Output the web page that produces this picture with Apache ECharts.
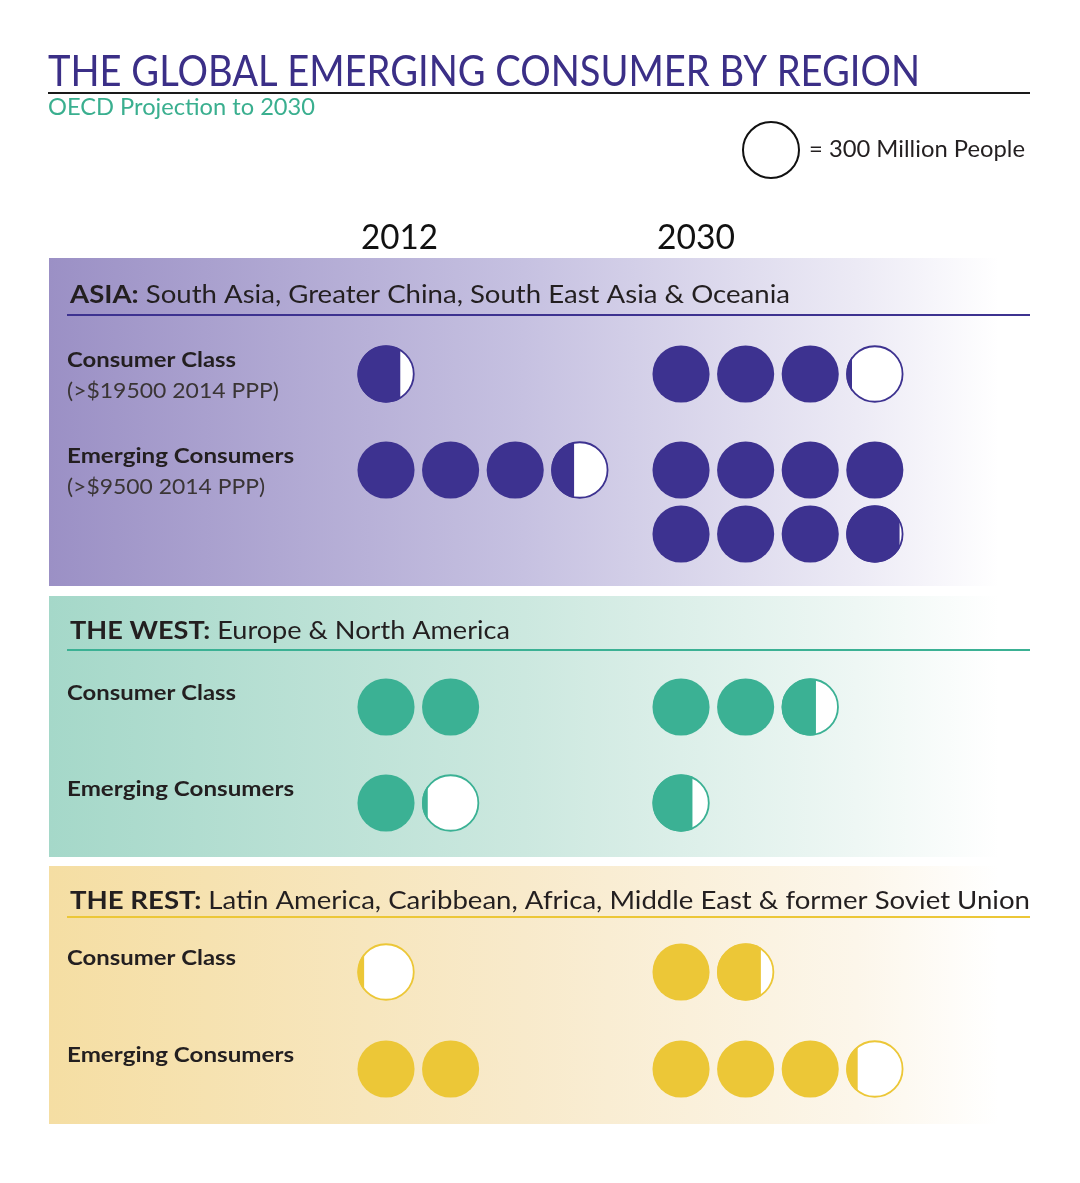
<!DOCTYPE html>
<html><head><meta charset="utf-8">
<script src="https://cdn.jsdelivr.net/npm/echarts@6/dist/echarts.min.js"></script>
<style>html,body{margin:0;padding:0;background:#fff}#c{width:1080px;height:1183px}</style>
</head><body><div id="c"></div>
<script>
// ---------------- DATA ----------------
const titleText = 'THE GLOBAL EMERGING CONSUMER BY REGION';
const subtitleText = 'OECD Projection to 2030';
const legendText = '= 300 Million People';
const regions = ['ASIA:', 'THE WEST:', 'THE REST:'];
const regionDetails = [
  'South Asia, Greater China, South East Asia & Oceania',
  'Europe & North America',
  'Latin America, Caribbean, Africa, Middle East & former Soviet Union'
];
const years = ['2012', '2030'];
const metrics = ['Consumer Class', 'Emerging Consumers'];
const metricNotes = ['(>$19500 2014 PPP)', '(>$9500 2014 PPP)']; // shown for Asia only
const peoplePerCircle = 300; // million people per circle
// millions of people, per region [Asia, West, Rest]
const consumerClass2012 = [225, 600, 35];
const consumerClass2030 = [930, 780, 530];
const emergingConsumers2012 = [1020, 330, 600];
const emergingConsumers2030 = [2380, 210, 960];

// ---------------- LAYOUT / STYLE ----------------
const FONT = 'Lato';
const TEXT = '#231f20';
const regionColors = ['#3d3290', '#3bb194', '#ecc737'];
const panelGrad = [
  ['#9b90c5', '#c6c1e1', '#eceaf5', '#ffffff'],
  ['#a5d8c9', '#cce8df', '#eef7f4', '#ffffff'],
  ['#f5dea3', '#f8eacb', '#fcf6ea', '#ffffff']
];
const panels = [
  {top: 258, bottom: 586, header: 295, line: 315, rows: [374, 470], headerW: 720},
  {top: 596, bottom: 857, header: 631, line: 650, rows: [707, 803], headerW: 440},
  {top: 866, bottom: 1124, header: 901, line: 917, rows: [972, 1069], headerW: 960}
];
const SLOT = 64.6;            // px per circle slot
const yearSlotOffset = [0, 4.567];
const perLine = 4;
const lineStep = 64;

const ctx = document.createElement('canvas').getContext('2d');
function tw(t, size, weight) { ctx.font = (weight || 'normal') + ' ' + size + 'px ' + FONT; return ctx.measureText(t).width; }
function fitText(t, left, width, cy, size, weight, color, z) {
  const s = width / tw(t, size, weight);
  return {type: 'text', x: left, y: cy, scaleX: s, scaleY: 1, z: z || 20,
    style: {text: t, fontSize: size, fontFamily: FONT, fontWeight: weight || 'normal', fill: color,
      align: 'left', verticalAlign: 'middle', textAlign: 'left', textVerticalAlign: 'middle'}};
}
function plainText(t, left, cy, size, weight, color, s) {
  return {type: 'text', x: left, y: cy, scaleX: s, z: 20,
    style: {text: t, fontSize: size, fontFamily: FONT, fontWeight: weight, fill: color,
      align: 'left', verticalAlign: 'middle', textAlign: 'left', textVerticalAlign: 'middle'}};
}

const g = [];
// panels
panels.forEach((p, i) => {
  g.push({type: 'rect', z: 1, shape: {x: 49, y: p.top, width: 950, height: p.bottom - p.top},
    style: {fill: new echarts.graphic.LinearGradient(0, 0, 1, 0, [
      {offset: 0, color: panelGrad[i][0]}, {offset: 0.5, color: panelGrad[i][1]},
      {offset: 0.85, color: panelGrad[i][2]}, {offset: 1, color: panelGrad[i][3]}])}});
  g.push({type: 'line', z: 5, shape: {x1: 67, y1: p.line, x2: 1030, y2: p.line},
    style: {stroke: regionColors[i], lineWidth: 2}});
  // header: bold region + detail
  const size = 25;
  const b = regions[i], n = ' ' + regionDetails[i];
  const wb = tw(b, size, 'bold'), wn = tw(n, size, 'normal');
  const s = p.headerW / (wb + wn);
  g.push(plainText(b, 70, p.header, size, 'bold', TEXT, s));
  g.push(plainText(n, 70 + wb * s, p.header, size, 'normal', TEXT, s));
  // row labels
  p.rows.forEach((ry, m) => {
    const wTarget = m === 0 ? 169 : 227;
    g.push(fitText(metrics[m], 67, wTarget, ry - 14, 21, 'bold', TEXT));
    if (i === 0) g.push(fitText(metricNotes[m], 67, m === 0 ? 212 : 198, ry + 17, 21, 'normal', '#3a3535'));
  });
});
// title
g.push(fitText(titleText, 48, 872, 72, 42, 'normal', '#3b2f87'));
g.push({type: 'line', z: 5, shape: {x1: 48, y1: 93, x2: 1030, y2: 93}, style: {stroke: '#1a1a1a', lineWidth: 2}});
g.push(fitText(subtitleText, 48, 267, 108, 23, 'normal', '#3aaf8f'));
// legend
g.push({type: 'circle', z: 5, shape: {cx: 771, cy: 150, r: 28}, style: {fill: '#fff', stroke: '#111', lineWidth: 2}});
g.push(fitText(legendText, 809, 216, 150, 23, 'normal', TEXT));
// year headers
g.push(fitText(years[0], 361, 77, 238, 34, 'normal', '#111'));
g.push(fitText(years[1], 657, 78, 238, 34, 'normal', '#111'));

// ---------------- circles data ----------------
const seriesByMetricYear = [[consumerClass2012, consumerClass2030], [emergingConsumers2012, emergingConsumers2030]];
const circles = [];
regions.forEach((r, ri) => {
  seriesByMetricYear.forEach((byYear, m) => {
    byYear.forEach((arr, yi) => {
      const units = arr[ri] / peoplePerCircle;
      const n = Math.ceil(units - 1e-9);
      for (let k = 0; k < n; k++) {
        const fill = Math.min(1, units - k);
        circles.push([yearSlotOffset[yi] + (k % perLine), panels[ri].rows[m] + Math.floor(k / perLine) * lineStep, fill, ri]);
      }
    });
  });
});

function renderItem(params, api) {
  const c = api.coord([api.value(0), api.value(1)]);
  const unit = api.size([1, 0])[0];
  const r = unit * 0.442;
  const f = api.value(2);
  const color = regionColors[api.value(3)];
  if (f >= 0.999) return {type: 'circle', shape: {cx: c[0], cy: c[1], r: r}, style: {fill: color}};
  const x0 = c[0] - r + 2 * r * f;
  const d = x0 - c[0];
  const h = Math.sqrt(Math.max(0, r * r - d * d));
  const large = f > 0.5 ? 1 : 0;
  const pd = 'M' + x0 + ',' + (c[1] - h) + 'A' + r + ',' + r + ',0,' + large + ',0,' + x0 + ',' + (c[1] + h) + 'Z';
  return {type: 'group', children: [
    {type: 'circle', shape: {cx: c[0], cy: c[1], r: r - 0.8}, style: {fill: '#fff', stroke: color, lineWidth: 1.8}},
    {type: 'path', shape: {pathData: pd}, style: {fill: color}}
  ]};
}

const chart = echarts.init(document.getElementById('c'), null, {renderer: 'canvas'});
chart.setOption({
  animation: false,
  backgroundColor: '#fff',
  grid: {left: 386 - 0.5 * SLOT, width: SLOT * 10, top: 0, height: 1183, containLabel: false},
  xAxis: {type: 'value', min: -0.5, max: 9.5, show: false},
  yAxis: {type: 'value', min: 0, max: 1183, inverse: true, show: false},
  graphic: {elements: g},
  series: [{type: 'custom', z: 50, renderItem: renderItem, data: circles, clip: false}]
});
</script></body></html>
